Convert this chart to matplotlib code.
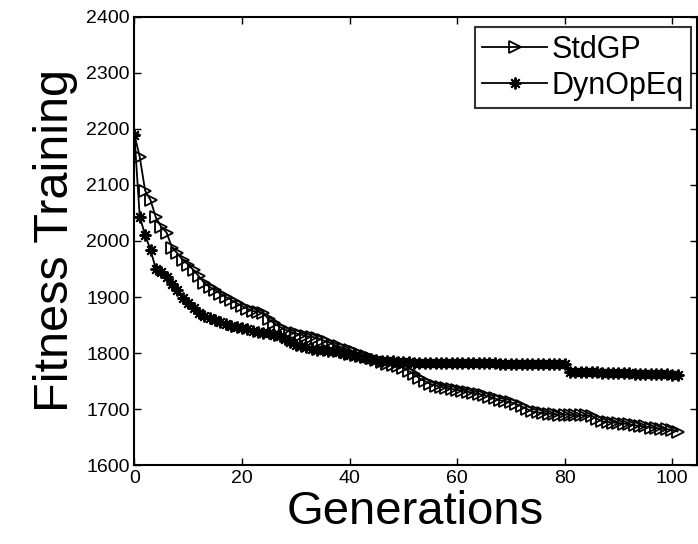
#!/usr/bin/env python3
# coding: utf-8

import numpy as np
import matplotlib
matplotlib.use("Agg")
import matplotlib.pyplot as plt

plt.rcParams['font.family'] = ['Liberation Sans', 'DejaVu Sans']

generations = list(range(0, 102))

std_gp = [2190, 2150, 2090, 2073, 2042, 2025, 2015, 1988, 1978, 1966,
          1958, 1948, 1937, 1925, 1918, 1912, 1906, 1900, 1895, 1889,
          1884, 1879, 1875, 1874, 1871, 1860, 1853, 1847, 1842, 1838,
          1835, 1833, 1830, 1829, 1827, 1823, 1820, 1815, 1812, 1808,
          1805, 1802, 1799, 1795, 1791, 1788, 1784, 1781, 1779, 1777,
          1774, 1768, 1762, 1755, 1750, 1745, 1742, 1740, 1738, 1736,
          1734, 1733, 1731, 1729, 1727, 1725, 1722, 1719, 1716, 1714,
          1712, 1709, 1705, 1700, 1696, 1694, 1693, 1692, 1691, 1690,
          1690, 1690, 1689, 1689, 1689, 1688, 1683, 1678, 1677, 1676,
          1675, 1674, 1673, 1671, 1670, 1669, 1667, 1666, 1665, 1664,
          1663, 1660]

dyn_op_eq = [2190, 2043, 2011, 1984, 1950, 1945, 1936, 1924, 1912, 1899,
             1889, 1880, 1872, 1866, 1862, 1859, 1855, 1852, 1849, 1847,
             1845, 1843, 1840, 1838, 1836, 1835, 1833, 1830, 1825, 1820,
             1815, 1812, 1810, 1808, 1806, 1805, 1804, 1803, 1801, 1799,
             1797, 1795, 1793, 1791, 1789, 1787, 1786, 1785, 1785, 1784,
             1784, 1784, 1783, 1783, 1783, 1783, 1783, 1783, 1782, 1782,
             1782, 1782, 1782, 1782, 1782, 1782, 1782, 1782, 1781, 1781,
             1781, 1781, 1781, 1781, 1781, 1781, 1781, 1781, 1781, 1781,
             1781, 1767, 1767, 1766, 1766, 1766, 1766, 1765, 1765, 1765,
             1764, 1764, 1764, 1763, 1763, 1763, 1762, 1762, 1762, 1762,
             1761, 1761]

x_ticks = [0, 20, 40, 60, 80, 100]
y_ticks = [1600, 1700, 1800, 1900, 2000, 2100, 2200, 2300, 2400]

fig = plt.figure(figsize=(6.98, 5.44), dpi=100)
ax = fig.add_axes([0.1925, 0.145, 0.806, 0.824])

ax.plot(generations, std_gp, color="black", linewidth=1.3, marker=">",
        markersize=9, markerfacecolor="none", markeredgewidth=1.3, label="StdGP")
ax.plot(generations, dyn_op_eq, color="black", linewidth=1.3, marker=(8, 2, 0),
        markersize=8.5, markeredgewidth=1.4, label="DynOpEq")

ax.set_xlim(0, 104.6)
ax.set_ylim(1600, 2400)
ax.set_xticks(x_ticks)
ax.set_yticks(y_ticks)
ax.tick_params(direction="in", length=5, width=1, labelsize=14, top=True, right=True)
for s in ax.spines.values():
    s.set_linewidth(1.5)

ax.set_xlabel("Generations", fontsize=34, labelpad=2)
ax.set_ylabel("Fitness Training", fontsize=35, labelpad=6)

# legend box: upper right corner at about (691, 27) px
leg = ax.legend(loc="upper right", bbox_to_anchor=(691 / 698, 1 - 27 / 544),
                bbox_transform=fig.transFigure, fontsize=22, frameon=True,
                fancybox=False, edgecolor="black", handlelength=2.1,
                handletextpad=0.15, borderpad=0.25, labelspacing=0.2,
                borderaxespad=0)
leg.get_frame().set_linewidth(1.5)

fig.savefig("out.png", dpi=100)
